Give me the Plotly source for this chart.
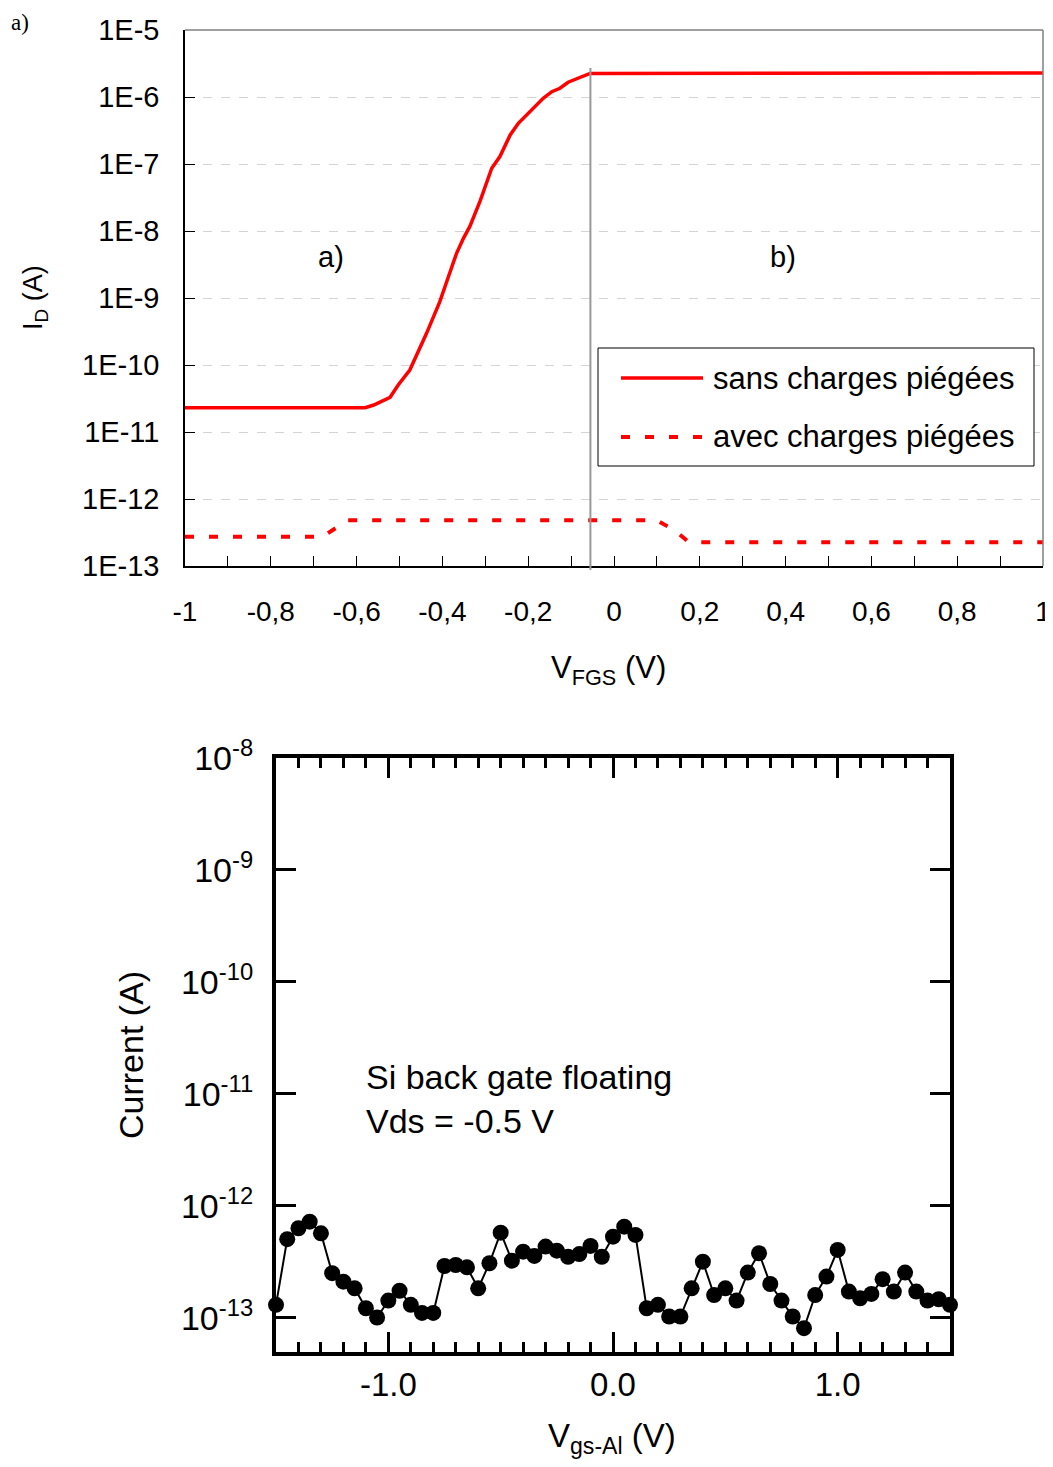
import plotly.graph_objects as go

# page body has an 8px margin: the figure is placed at (8, 8)
OFF = 8
W, H = 1045, 1451
FONT = "Liberation Sans, Arial, sans-serif"

# ---------------- Top chart data ----------------
vfgs_sans = [-1.0, -0.58, -0.56, -0.522, -0.503, -0.476, -0.437, -0.406, -0.39, -0.367,
             -0.351, -0.336, -0.312, -0.285, -0.266, -0.242, -0.223, -0.196, -0.165,
             -0.145, -0.126, -0.107, -0.079, -0.056, 1.0]
id_sans = [2.31e-11, 2.31e-11, 2.53e-11, 3.30e-11, 5.02e-11, 8.41e-11, 2.97e-10, 8.81e-10,
           1.75e-9, 4.65e-9, 7.78e-9, 1.17e-8, 2.81e-8, 8.63e-8, 1.29e-7, 2.71e-7, 4.05e-7,
           6.04e-7, 9.57e-7, 1.20e-6, 1.35e-6, 1.66e-6, 1.97e-6, 2.25e-6, 2.28e-6]

vfgs_avec = [-1.0, -0.68, -0.62, 0.10, 0.14, 0.175, 1.0]
id_avec = [2.73e-13, 2.73e-13, 4.81e-13, 4.81e-13, 3.44e-13, 2.26e-13, 2.26e-13]

top_xticks = [-1, -0.8, -0.6, -0.4, -0.2, 0, 0.2, 0.4, 0.6, 0.8, 1]
top_xlabels = ["-1", "-0,8", "-0,6", "-0,4", "-0,2", "0", "0,2", "0,4", "0,6", "0,8", "1"]
top_yticks = [1e-13, 1e-12, 1e-11, 1e-10, 1e-9, 1e-8, 1e-7, 1e-6, 1e-5]
top_ylabels = ["1E-13", "1E-12", "1E-11", "1E-10", "1E-9", "1E-8", "1E-7", "1E-6", "1E-5"]
legend_names = ["sans charges piégées", "avec charges piégées"]
vline_x = -0.055

# ---------------- Bottom chart data ----------------
vgs = [-1.50, -1.45, -1.40, -1.35, -1.30, -1.25, -1.20, -1.15, -1.10, -1.05,
       -1.00, -0.95, -0.90, -0.85, -0.80, -0.75, -0.70, -0.65, -0.60, -0.55,
       -0.50, -0.45, -0.40, -0.35, -0.30, -0.25, -0.20, -0.15, -0.10, -0.05,
       0.00, 0.05, 0.10, 0.15, 0.20, 0.25, 0.30, 0.35, 0.40, 0.45,
       0.50, 0.55, 0.60, 0.65, 0.70, 0.75, 0.80, 0.85, 0.90, 0.95,
       1.00, 1.05, 1.10, 1.15, 1.20, 1.25, 1.30, 1.35, 1.40, 1.45, 1.50]
current = [1.31e-13, 5.05e-13, 6.32e-13, 7.24e-13, 5.70e-13, 2.51e-13, 2.11e-13, 1.84e-13, 1.22e-13, 1.01e-13,
           1.43e-13, 1.75e-13, 1.31e-13, 1.11e-13, 1.11e-13, 2.91e-13, 2.97e-13, 2.83e-13, 1.84e-13, 3.08e-13,
           5.78e-13, 3.25e-13, 3.91e-13, 3.58e-13, 4.34e-13, 3.99e-13, 3.52e-13, 3.72e-13, 4.40e-13, 3.52e-13,
           5.32e-13, 6.53e-13, 5.51e-13, 1.22e-13, 1.31e-13, 1.03e-13, 1.03e-13, 1.84e-13, 3.18e-13, 1.60e-13,
           1.84e-13, 1.43e-13, 2.54e-13, 3.78e-13, 2.01e-13, 1.43e-13, 1.03e-13, 8.1e-14, 1.60e-13, 2.34e-13,
           4.05e-13, 1.72e-13, 1.50e-13, 1.64e-13, 2.22e-13, 1.72e-13, 2.54e-13, 1.72e-13, 1.43e-13, 1.47e-13, 1.31e-13]

bot_xticks = [-1.0, 0.0, 1.0]
bot_xlabels = ["-1.0", "0.0", "1.0"]
bot_xticks_unlabelled = [-1.5, -0.5, 0.5, 1.5]
bot_yticks = [1e-13, 1e-12, 1e-11, 1e-10, 1e-9, 1e-8]
bot_ylabels = ["10<sup>-13</sup>", "10<sup>-12</sup>", "10<sup>-11</sup>",
               "10<sup>-10</sup>", "10<sup>-9</sup>", "10<sup>-8</sup>"]


def px(x):
    return (x - OFF) / W


def py(y):
    return 1 - (y - OFF) / H


fig = go.Figure()

fig.add_trace(go.Scatter(x=vfgs_sans, y=id_sans, mode="lines", name=legend_names[0],
                         line=dict(color="#ff0000", width=3.5), xaxis="x", yaxis="y",
                         showlegend=False))
fig.add_trace(go.Scatter(x=vfgs_avec, y=id_avec, mode="lines", name=legend_names[1],
                         line=dict(color="#ff0000", width=4, dash="9px,15px"), xaxis="x", yaxis="y",
                         showlegend=False))
fig.add_trace(go.Scatter(x=vgs, y=current, mode="lines+markers", name="Current",
                         line=dict(color="black", width=2),
                         marker=dict(color="black", size=16), cliponaxis=False,
                         xaxis="x2", yaxis="y2", showlegend=False))

shapes = [
    # top & right frame of top chart (gray)
    dict(type="line", xref="x domain", yref="y domain", x0=0, x1=1, y0=1, y1=1,
         line=dict(color="#808080", width=1.5)),
    dict(type="line", xref="x domain", yref="y domain", x0=1, x1=1, y0=0, y1=1,
         line=dict(color="#808080", width=1.5)),
    # vertical separator
    dict(type="line", xref="x", yref="paper", x0=vline_x, x1=vline_x, y0=py(570), y1=py(68),
         line=dict(color="#999999", width=2)),
    # legend box
    dict(type="rect", xref="paper", yref="paper", x0=px(598), x1=px(1034), y0=py(466), y1=py(348),
         line=dict(color="black", width=1), fillcolor="white", layer="above"),
    dict(type="line", xref="paper", yref="paper", x0=px(621), x1=px(703), y0=py(378), y1=py(378),
         line=dict(color="#ff0000", width=3.5), layer="above"),
    dict(type="line", xref="paper", yref="paper", x0=px(621), x1=px(703), y0=py(437), y1=py(437),
         line=dict(color="#ff0000", width=4, dash="9px,15px"), layer="above"),
]


def ann(text, x, y, size, xanchor="center", yanchor="middle", **kw):
    d = dict(text=text, xref="paper", yref="paper", x=px(x), y=py(y), showarrow=False,
             xanchor=xanchor, yanchor=yanchor,
             font=dict(family=kw.pop("family", FONT), size=size, color="black"))
    d.update(kw)
    return d


annotations = [
    ann("a)", 20, 8, 23, yanchor="top", family="Liberation Serif, Times New Roman, serif"),
    dict(text="a)", xref="x", yref="y", x=-0.66, y=-8.39, showarrow=False,
         xanchor="center", yanchor="middle",
         font=dict(family=FONT, size=29, color="black")),
    dict(text="b)", xref="x", yref="y", x=0.394, y=-8.39, showarrow=False,
         xanchor="center", yanchor="middle",
         font=dict(family=FONT, size=29, color="black")),
    ann("I<sub>D</sub> (A)", 35, 298, 27, textangle=-90),
    ann("V<sub>FGS</sub> (V)", 608, 670, 31),
    ann(legend_names[0], 711, 378, 31, xanchor="left"),
    ann(legend_names[1], 711, 437, 31, xanchor="left"),
    # bottom chart
    ann("Si back gate floating<br>Vds = -0.5 V", 364, 1056, 34, xanchor="left",
        yanchor="top", align="left"),
    ann("Current (A)", 131, 1055, 34, textangle=-90),
    ann("V<sub>gs-Al</sub> (V)", 612, 1438, 33),
]

fig.update_layout(
    width=W, height=H,
    margin=dict(l=0, r=0, t=0, b=0),
    paper_bgcolor="white", plot_bgcolor="white",
    font=dict(family=FONT, color="black"),
    showlegend=False,
    xaxis=dict(domain=[px(185), px(1043)], anchor="y", range=[-1, 1],
               tickvals=top_xticks, ticktext=top_xlabels,
               ticks="inside", ticklen=10, tickcolor="black", tickwidth=1,
               minor=dict(dtick=0.1, tick0=0, ticks="inside", ticklen=10, tickcolor="black",
                          showgrid=False),
               showline=True, linecolor="black", linewidth=1.5, mirror=False,
               showgrid=False, zeroline=False, automargin=False,
               ticklabeloverflow="allow",
               tickfont=dict(family=FONT, size=28, color="black"), ticklabelstandoff=20),
    yaxis=dict(domain=[py(566), py(30)], anchor="x", type="log", range=[-13, -5],
               tickvals=top_yticks, ticktext=top_ylabels,
               ticks="inside", ticklen=10, tickcolor="black",
               showline=True, linecolor="black", linewidth=1.5,
               showgrid=True, gridcolor="#d4d4d4", griddash="dash", gridwidth=1,
               zeroline=False, automargin=False, ticklabeloverflow="allow",
               tickfont=dict(family=FONT, size=29, color="black"), ticklabelstandoff=18),
    xaxis2=dict(domain=[px(276), px(950)], anchor="y2", range=[-1.5, 1.5],
                tickvals=bot_xticks, ticktext=bot_xlabels,
                ticks="inside", ticklen=20, tickwidth=3, tickcolor="black",
                minor=dict(dtick=0.1, tick0=0, ticks="inside", ticklen=10, tickwidth=3,
                           tickcolor="black", showgrid=False),
                showline=True, linecolor="black", linewidth=4, mirror="allticks",
                showgrid=False, zeroline=False, automargin=False,
                tickfont=dict(family=FONT, size=33, color="black"), ticklabelstandoff=0),
    xaxis3=dict(domain=[px(276), px(950)], anchor="y2", overlaying="x2", range=[-1.5, 1.5],
                tickvals=bot_xticks_unlabelled, showticklabels=False,
                ticks="inside", ticklen=20, tickwidth=3, tickcolor="black",
                showline=True, linecolor="black", linewidth=4, mirror="allticks",
                showgrid=False, zeroline=False, automargin=False),
    yaxis2=dict(domain=[py(1352), py(758)], anchor="x2", type="log", range=[-13.304, -8],
                tickvals=bot_yticks, ticktext=bot_ylabels,
                ticks="inside", ticklen=20, tickwidth=3, tickcolor="black",
                showline=True, linecolor="black", linewidth=4, mirror="allticks",
                showgrid=False, zeroline=False, automargin=False,
                tickfont=dict(family=FONT, size=34, color="black"), ticklabelstandoff=12),
    shapes=shapes,
    annotations=annotations,
)

fig.write_html("out.html")
